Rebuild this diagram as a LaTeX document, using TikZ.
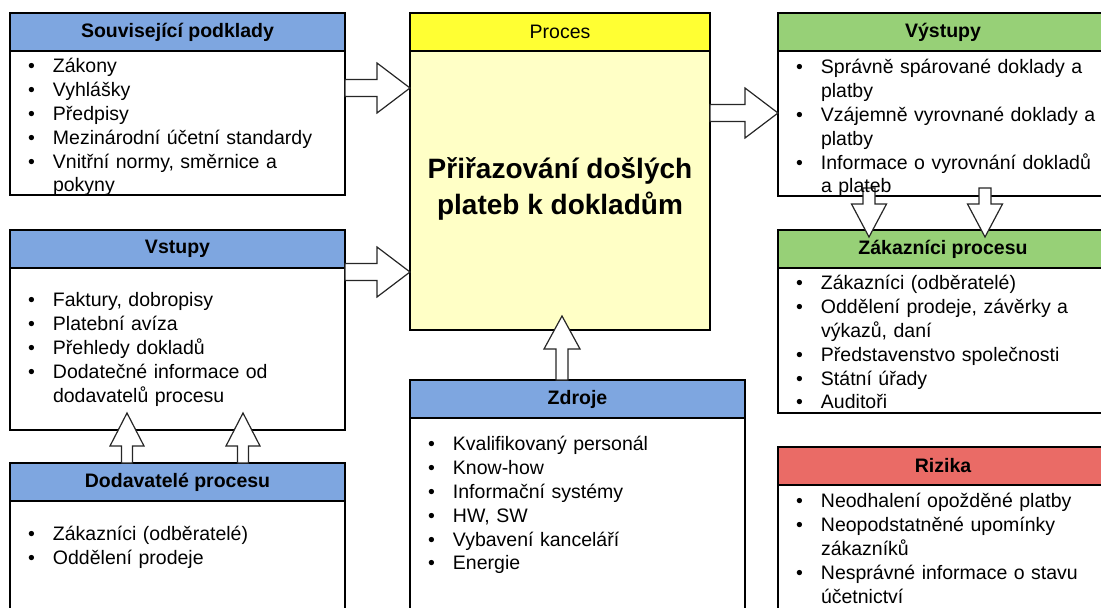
\documentclass[tikz,border=0pt]{standalone}
\usepackage{fontspec}
\setmainfont{Liberation Sans}
\usepackage{xcolor}
\usetikzlibrary{calc,positioning}

\definecolor{hdblue}{HTML}{7EA6E0}
\definecolor{hdgreen}{HTML}{97D077}
\definecolor{hdred}{HTML}{EA6B66}
\definecolor{hdyellow}{HTML}{FFFF33}
\definecolor{procfill}{HTML}{FFFFC6}

\newcommand{\bul}[1]{\par\noindent\makebox[25pt][l]{\textbullet}#1}
\newcommand{\cont}[1]{\par\noindent\hspace*{25pt}#1}

% hollow block arrow: start, tip, half shaft, half head
\newcommand{\fatarrow}[4]{%
  \path (#1) coordinate (fs);
  \path (#2) coordinate (ft);
  \path ($(ft)!33pt!(fs)$) coordinate (fh);
  \draw[fat] ($(fs)!#3!90:(ft)$) -- ($(fh)!#3!90:(ft)$) -- ($(fh)!#4!90:(ft)$) -- (ft)
    -- ($(fh)!#4!-90:(ft)$) -- ($(fh)!#3!-90:(ft)$) -- ($(fs)!#3!-90:(ft)$) -- cycle;}

\begin{document}
\begin{tikzpicture}[node distance=0pt,every node/.style={outer sep=0pt},
  head/.style={draw, line width=1.2pt, minimum height=38pt, inner sep=0pt, anchor=north west,
    font=\fontsize{19.5}{23.8}\selectfont\bfseries},
  panel/.style={draw, line width=1.2pt, inner sep=0pt, fill=white},
  list/.style={anchor=base west, inner sep=0pt, text width=330pt, align=left,
    font=\fontsize{19.5}{23.8}\selectfont},
  fat/.style={draw=black!85, fill=white, line width=1.2pt}]

  \clip (0pt,0pt) rectangle (1101pt,-608pt);

  % left column
  \node(podkladyH)[head,fill=hdblue,minimum width=335pt] at (10pt,-13pt) {Související podklady};
  \node(podklady)[panel,below=of podkladyH,minimum width=335pt,minimum height=144pt] {};

  \node(vstupyH)[head,fill=hdblue,minimum width=335pt] at (10pt,-230pt) {Vstupy};
  \node(vstupy)[panel,below=of vstupyH,minimum width=335pt,minimum height=162pt] {};

  \node(dodavateleH)[head,fill=hdblue,minimum width=335pt] at (10pt,-463pt) {Dodavatelé procesu};
  \node(dodavatele)[panel,below=of dodavateleH,minimum width=335pt,minimum height=150pt] {};

  % middle column
  \node(procesH)[head,fill=hdyellow,minimum width=300pt,font=\fontsize{19.5}{23.8}\selectfont] at (410pt,-13pt) {Proces};
  \node(proces)[panel,fill=procfill,below=of procesH,minimum width=300pt,minimum height=279pt] {};

  \node(zdrojeH)[head,fill=hdblue,minimum width=335pt] at (410pt,-380pt) {Zdroje};
  \node(zdroje)[panel,below=of zdrojeH,minimum width=335pt,minimum height=250pt] {};

  % right column
  \node(vystupyH)[head,fill=hdgreen,minimum width=330pt] at (778pt,-13pt) {Výstupy};
  \node(vystupy)[panel,below=of vystupyH,minimum width=330pt,minimum height=145pt] {};

  \node(zakazniciH)[head,fill=hdgreen,minimum width=330pt] at (778pt,-230pt) {Zákazníci procesu};
  \node(zakaznici)[panel,below=of zakazniciH,minimum width=330pt,minimum height=145pt] {};

  \node(rizikaH)[head,fill=hdred,minimum width=330pt] at (778pt,-447pt) {Rizika};
  \node(rizika)[panel,below=of rizikaH,minimum width=330pt,minimum height=150pt] {};

  % arrows
  \fatarrow{[yshift=-37pt]podkladyH.south east}{proces.west |- fs}{8.5pt}{25pt}
  \fatarrow{[yshift=-4pt]vstupyH.south east}{proces.west |- fs}{8.5pt}{25pt}
  \fatarrow{[yshift=-62pt]procesH.south east}{vystupy.west |- fs}{8.5pt}{25pt}
  \fatarrow{[xshift=-15.5pt]zdrojeH.north}{$(fs |- proces.south)+(0,14pt)$}{6pt}{18pt}
  \fatarrow{[xshift=117pt]dodavateleH.north west}{$(fs |- vstupy.south)+(0,17pt)$}{5.5pt}{17pt}
  \fatarrow{[xshift=233pt]dodavateleH.north west}{$(fs |- vstupy.south)+(0,17pt)$}{5.5pt}{17pt}
  \fatarrow{$(vystupy.south west)+(91pt,8pt)$}{$(fs |- zakazniciH.north)+(0,-7pt)$}{6pt}{17.5pt}
  \fatarrow{$(vystupy.south west)+(207pt,8pt)$}{$(fs |- zakazniciH.north)+(0,-7pt)$}{6pt}{17.5pt}

  % texts
  \node(procesT)[font=\fontsize{28}{36}\selectfont\bfseries,align=center] at ([yshift=2pt]proces.center)
    {Přiřazování došlých\\plateb k dokladům};

  \node(podkladyT)[list] at ($(podklady.north west)+(18pt,2pt)$) {%
    \bul{Zákony}
    \bul{Vyhlášky}
    \bul{Předpisy}
    \bul{Mezinárodní účetní standardy}
    \bul{Vnitřní normy, směrnice a}
    \cont{pokyny}};

  \node(vstupyT)[list] at ($(vstupy.north west)+(18pt,-15pt)$) {%
    \bul{Faktury, dobropisy}
    \bul{Platební avíza}
    \bul{Přehledy dokladů}
    \bul{Dodatečné informace od}
    \cont{dodavatelů procesu}};

  \node(dodavateleT)[list] at ($(dodavatele.north west)+(18pt,-16pt)$) {%
    \bul{Zákazníci (odběratelé)}
    \bul{Oddělení prodeje}};

  \node(zdrojeT)[list] at ($(zdroje.north west)+(18pt,-9pt)$) {%
    \bul{Kvalifikovaný personál}
    \bul{Know-how}
    \bul{Informační systémy}
    \bul{HW, SW}
    \bul{Vybavení kanceláří}
    \bul{Energie}};

  \node(vystupyT)[list] at ($(vystupy.north west)+(18pt,1pt)$) {%
    \bul{Správně spárované doklady a}
    \cont{platby}
    \bul{Vzájemně vyrovnané doklady a}
    \cont{platby}
    \bul{Informace o vyrovnání dokladů}
    \cont{a plateb}};

  \node(zakazniciT)[list] at ($(zakaznici.north west)+(18pt,2pt)$) {%
    \bul{Zákazníci (odběratelé)}
    \bul{Oddělení prodeje, závěrky a}
    \cont{výkazů, daní}
    \bul{Představenstvo společnosti}
    \bul{Státní úřady}
    \bul{Auditoři}};

  \node(rizikaT)[list] at ($(rizika.north west)+(18pt,1pt)$) {%
    \bul{Neodhalení opožděné platby}
    \bul{Neopodstatněné upomínky}
    \cont{zákazníků}
    \bul{Nesprávné informace o stavu}
    \cont{účetnictví}};
\end{tikzpicture}
\end{document}
